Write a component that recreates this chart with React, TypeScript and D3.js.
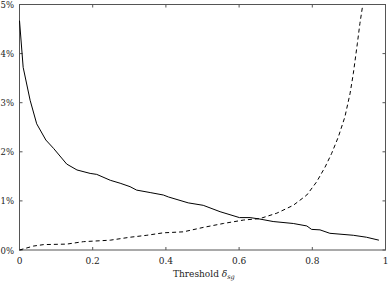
import React from "react"
import * as d3 from "d3"

// Error rates (%) vs. threshold
const solidX = [0, 0.01, 0.029, 0.047, 0.072, 0.093, 0.129, 0.157, 0.193, 0.211, 0.248, 0.275, 0.302, 0.32, 0.357, 0.393, 0.407, 0.461, 0.502, 0.548, 0.601, 0.63, 0.657, 0.693, 0.748, 0.785, 0.798, 0.821, 0.848, 0.912, 0.948, 0.982]
const solidY = [4.67, 3.72, 3.05, 2.57, 2.24, 2.07, 1.75, 1.63, 1.56, 1.54, 1.42, 1.36, 1.29, 1.22, 1.17, 1.12, 1.08, 0.96, 0.91, 0.78, 0.66, 0.66, 0.63, 0.58, 0.54, 0.49, 0.42, 0.41, 0.34, 0.3, 0.26, 0.2]
const dashX = [0, 0.038, 0.066, 0.129, 0.175, 0.248, 0.302, 0.348, 0.393, 0.448, 0.502, 0.557, 0.612, 0.657, 0.703, 0.748, 0.785, 0.812, 0.835, 0.853, 0.871, 0.889, 0.903, 0.912, 0.923, 0.93, 0.937]
const dashY = [0.0, 0.08, 0.11, 0.12, 0.17, 0.2, 0.26, 0.3, 0.35, 0.37, 0.46, 0.54, 0.61, 0.64, 0.75, 0.91, 1.12, 1.39, 1.69, 1.97, 2.3, 2.71, 3.18, 3.59, 4.2, 4.61, 4.95]
const xTicks = [0, 0.2, 0.4, 0.6, 0.8, 1]
const yTicks = [0, 1, 2, 3, 4, 5]

const W = 390
const H = 283
const font = "'DejaVu Serif', 'Liberation Serif', serif"

export default function App() {
    const x = d3.scaleLinear().domain([0, 1]).range([19.5, 385.5])
    const y = d3.scaleLinear().domain([0, 5]).range([250, 4.5])
    const line = d3.line<[number, number]>().x(d => x(d[0])).y(d => y(d[1]))
    const solid = solidX.map((v, i) => [v, solidY[i]] as [number, number])
    const dashed = dashX.map((v, i) => [v, dashY[i]] as [number, number])
    const axisColor = "#555"

    return (
        <svg width={W} height={H} style={{ position: "absolute", left: 0, top: 0, background: "#fff" }}>
            <rect x={x(0)} y={y(5)} width={x(1) - x(0)} height={y(0) - y(5)} fill="none" stroke={axisColor} strokeWidth={1} />
            {xTicks.map(t => (
                <g key={"x" + t}>
                    <line x1={x(t)} x2={x(t)} y1={y(0)} y2={y(0) - 3} stroke={axisColor} />
                    <line x1={x(t)} x2={x(t)} y1={y(5)} y2={y(5) + 3} stroke={axisColor} />
                    <text x={x(t)} y={264} textAnchor="middle" fontFamily={font} fontSize={9} fill="#222">{t}</text>
                </g>
            ))}
            {yTicks.map(t => (
                <g key={"y" + t}>
                    <line x1={x(0)} x2={x(0) + 3} y1={y(t)} y2={y(t)} stroke={axisColor} />
                    <line x1={x(1)} x2={x(1) - 3} y1={y(t)} y2={y(t)} stroke={axisColor} />
                    <text x={0.5} y={y(t) + 3.5} textAnchor="start" fontFamily={font} fontSize={8.5} fill="#222">{t}%</text>
                </g>
            ))}
            <path d={line(solid) || ""} fill="none" stroke="#000" strokeWidth={1} />
            <path d={line(dashed) || ""} fill="none" stroke="#000" strokeWidth={1} strokeDasharray="4,3" />
            <text x={173} y={277} fontFamily={font} fontSize={9} fill="#222">
                Threshold <tspan fontStyle="italic">δ</tspan><tspan fontSize={6.5} dy={2} fontStyle="italic">sg</tspan>
            </text>
        </svg>
    )
}
